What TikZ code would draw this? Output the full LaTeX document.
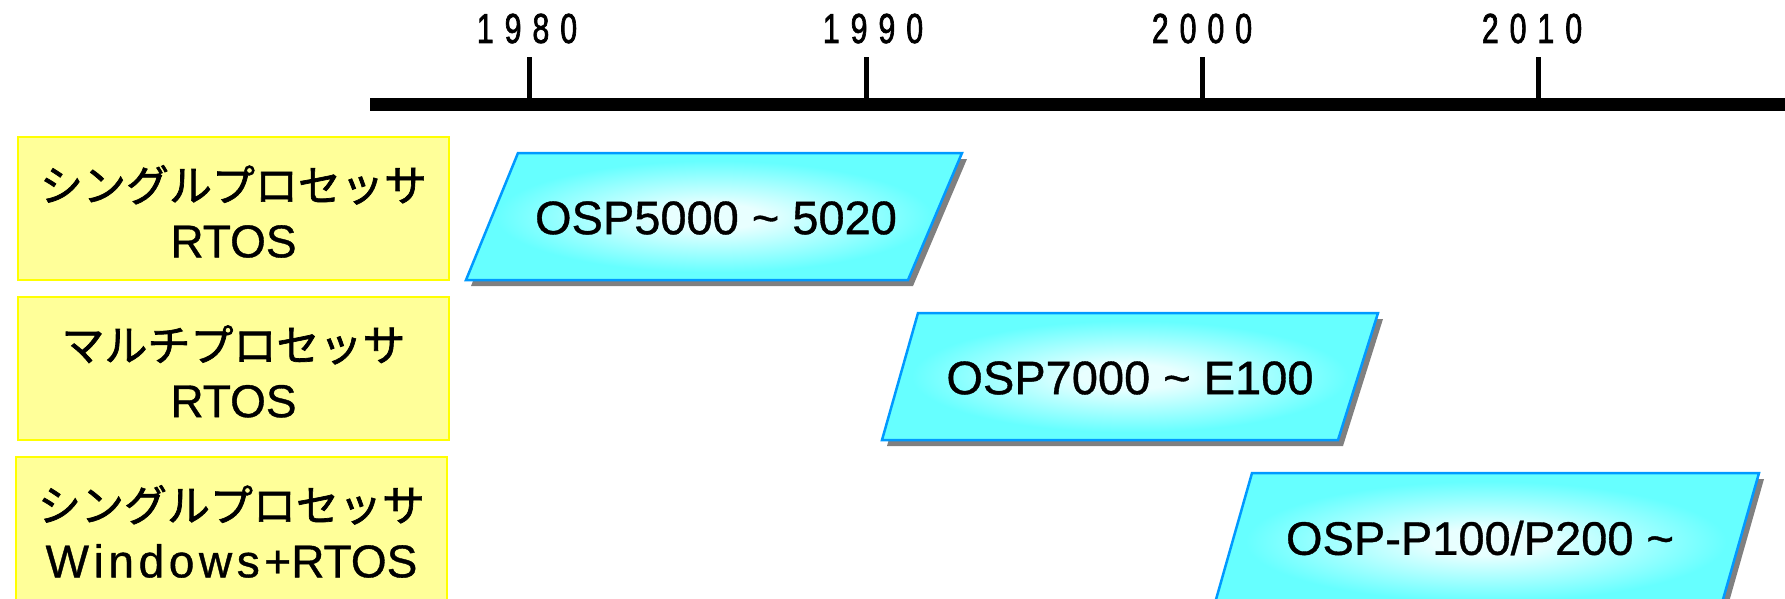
\documentclass[tikz,border=0pt]{standalone}
\usepackage{fontspec}
\setmainfont[FakeBold=0.8]{Liberation Sans}
\newfontfamily\jp[FakeBold=1.6]{Noto Sans CJK JP}
\newfontfamily\yearfont[FakeStretch=0.72,FakeBold=1.6]{Liberation Sans}
\usetikzlibrary{calc}

\definecolor{boxfill}{HTML}{FFFF99}
\definecolor{boxline}{HTML}{FFFF00}
\definecolor{cyanedge}{HTML}{66FFFF}
\definecolor{cyanglow}{HTML}{E8FFFF}
\definecolor{osline}{HTML}{0099FF}
\definecolor{shadowgrey}{HTML}{808080}

% soft white glow in the middle of each OS band
\pgfdeclareradialshading{glow}{\pgfpoint{0bp}{0bp}}{%
  color(0bp)=(cyanglow); color(5bp)=(cyanglow);
  color(22bp)=(cyanedge); color(50bp)=(cyanedge)}

% year digits set wide apart
\newcommand\spreadyear[4]{#1\kern11pt#2\kern11pt#3\kern11pt#4}

\tikzset{
  catbox/.style={draw=boxline, fill=boxfill, line width=2pt,
    minimum width=431pt, minimum height=143pt},
  cattext/.style={align=center, inner sep=0pt, yshift=-3pt,
    font=\fontsize{46}{56}\selectfont},
  era/.style={draw=osline, line width=2.5pt, shade, shading=glow, line join=miter},
  erashadow/.style={fill=shadowgrey},
  eratext/.style={font=\fontsize{47}{50}\selectfont, inner sep=0pt},
  yearlabel/.style={font=\yearfont\fontsize{42}{42}\selectfont, anchor=base, inner sep=0pt},
  axisbar/.style={fill=black},
}

\begin{document}
\begin{tikzpicture}[x=1pt, y=-1pt]
\useasboundingbox (0,0) rectangle (1785,599);
\begin{scope}
\clip (0,0) rectangle (1785,599);

% time axis with decade ticks
\fill[axisbar] (370,98) rectangle (1785,111);
\foreach \tx in {529, 866, 1202, 1538}{
  \fill[axisbar] (\tx-2.5,57) rectangle (\tx+2.5,99);
}
\node[yearlabel] (y1980) at (527,43)  {\spreadyear1980};
\node[yearlabel] (y1990) at (873,43)  {\spreadyear1990};
\node[yearlabel] (y2000) at (1202,43) {\spreadyear2000};
\node[yearlabel] (y2010) at (1532,43) {\spreadyear2010};

% category boxes
\node[catbox] (cat1) at (233.5,208.5) {};
\node[cattext] (cat1text) at (cat1.center)
  {{\jp\fontsize{43}{47}\selectfont シングルプロセッサ}\\RTOS};
\node[catbox] (cat2) at (233.5,368.5) {};
\node[cattext] (cat2text) at (cat2.center)
  {{\jp\fontsize{43}{47}\selectfont マルチプロセッサ}\\RTOS};
\node[catbox] (cat3) at (231.5,528.5) {};
\node[cattext] (cat3text) at (cat3.center)
  {{\jp\fontsize{43}{47}\selectfont シングルプロセッサ}\\{\addfontfeature{LetterSpace=10}Windows+}RTOS};

% OS generations
\fill[erashadow] (523,159) -- (967,159) -- (913,286) -- (471,286) -- cycle;
\path[era] (518,153) -- (962,153) -- (908,280) -- (466,280) -- cycle;
\node[eratext] (os1) at (716,218) {OSP5000 \textasciitilde{} 5020};

\fill[erashadow] (923,319) -- (1383,319) -- (1343,446) -- (887,446) -- cycle;
\path[era] (918,313) -- (1378,313) -- (1338,440) -- (882,440) -- cycle;
\node[eratext] (os2) at (1130,378) {OSP7000 \textasciitilde{} E100};

\fill[erashadow] (1257,479) -- (1764,479) -- (1725,616) -- (1218,616) -- cycle;
\path[era] (1252,473) -- (1759,473) -- (1720,610) -- (1213,610) -- cycle;
\node[eratext] (os3) at (1480,538) {OSP-P100/P200 \textasciitilde};
\end{scope}
\end{tikzpicture}
\end{document}
